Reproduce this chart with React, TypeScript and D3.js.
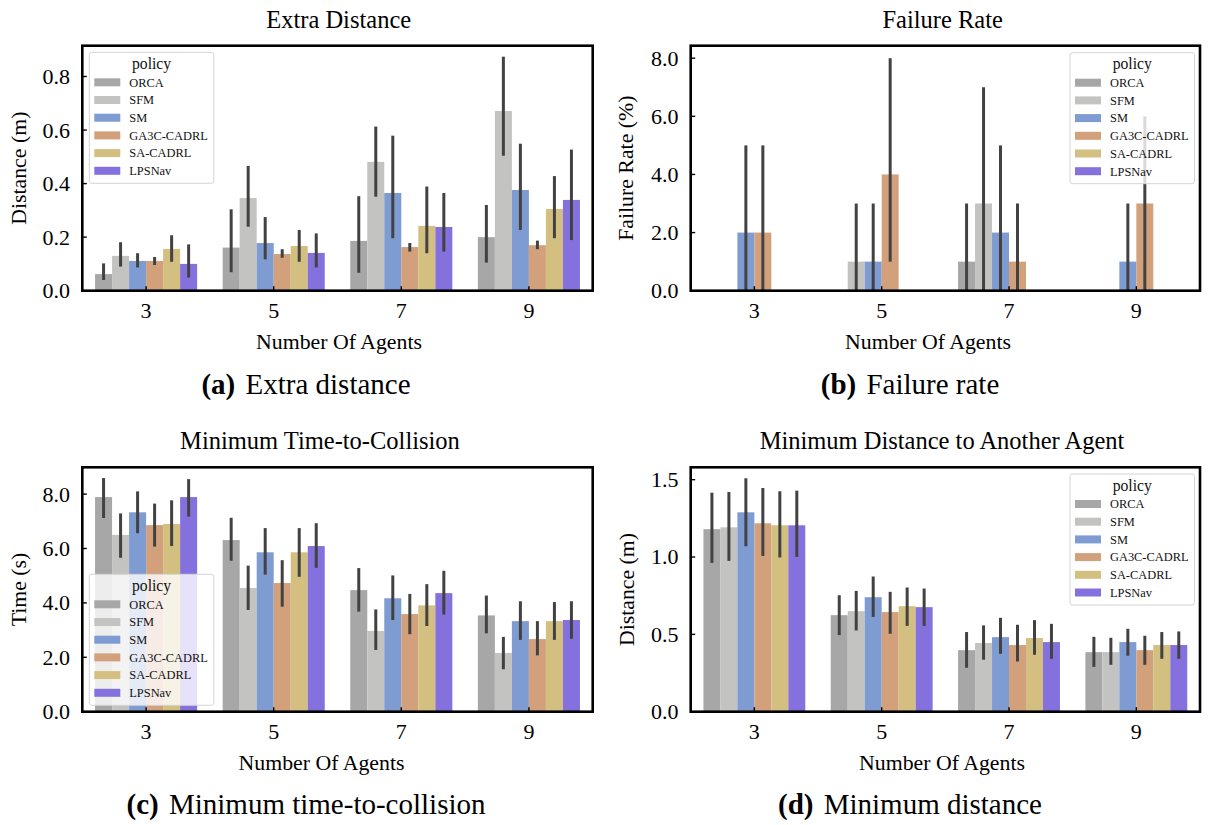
import React from 'react';
import * as d3 from 'd3';

const categories = ['3', '5', '7', '9'];
const policies = ['ORCA', 'SFM', 'SM', 'GA3C-CADRL', 'SA-CADRL', 'LPSNav'];
const policyColors = ['#a7a7a7', '#c3c3c2', '#7e9bd2', '#d2a17c', '#d3bf7f', '#8571de'];

// rows = policies, columns = categories (3,5,7,9)
const extraDistMean = [
  [0.062, 0.161, 0.186, 0.2],
  [0.13, 0.346, 0.481, 0.671],
  [0.111, 0.178, 0.365, 0.376],
  [0.111, 0.137, 0.163, 0.17],
  [0.156, 0.167, 0.242, 0.305],
  [0.1, 0.141, 0.238, 0.339],
];
const extraDistLo = [
  [0.04, 0.069, 0.067, 0.105],
  [0.09, 0.239, 0.351, 0.504],
  [0.087, 0.117, 0.196, 0.227],
  [0.096, 0.123, 0.146, 0.155],
  [0.108, 0.108, 0.14, 0.196],
  [0.049, 0.087, 0.146, 0.189],
];
const extraDistHi = [
  [0.102, 0.304, 0.353, 0.32],
  [0.181, 0.466, 0.613, 0.874],
  [0.14, 0.275, 0.579, 0.549],
  [0.126, 0.155, 0.178, 0.187],
  [0.207, 0.227, 0.389, 0.428],
  [0.173, 0.214, 0.365, 0.527],
];

const failMean = [
  [0, 0, 1, 0],
  [0, 1, 3, 0],
  [2, 1, 2, 1],
  [2, 4, 1, 3],
  [0, 0, 0, 0],
  [0, 0, 0, 0],
];
const failLo = [
  [0, 0, 0, 0],
  [0, 0, 0, 0],
  [0, 0, 0, 0],
  [0, 1, 0, 0],
  [0, 0, 0, 0],
  [0, 0, 0, 0],
];
const failHi = [
  [0, 0, 3, 0],
  [0, 3, 7, 0],
  [5, 3, 5, 3],
  [5, 8, 3, 6],
  [0, 0, 0, 0],
  [0, 0, 0, 0],
];

const ttcMean = [
  [7.89, 6.31, 4.47, 3.54],
  [6.5, 4.55, 2.97, 2.16],
  [7.33, 5.86, 4.17, 3.33],
  [6.86, 4.73, 3.59, 2.67],
  [6.9, 5.86, 3.91, 3.33],
  [7.89, 6.09, 4.36, 3.37],
];
const ttcLo = [
  [7.12, 5.55, 3.68, 2.88],
  [5.66, 3.74, 2.27, 1.56],
  [6.56, 5.04, 3.37, 2.64],
  [6.07, 3.86, 2.85, 2.07],
  [6.09, 4.96, 3.15, 2.64],
  [7.17, 5.29, 3.57, 2.68],
];
const ttcHi = [
  [8.59, 7.13, 5.28, 4.27],
  [7.29, 5.37, 3.76, 2.75],
  [8.1, 6.75, 5.01, 4.06],
  [7.65, 5.57, 4.33, 3.33],
  [7.77, 6.75, 4.69, 4.03],
  [8.55, 6.93, 5.18, 4.06],
];

const minDistMean = [
  [1.18, 0.624, 0.398, 0.385],
  [1.192, 0.65, 0.444, 0.385],
  [1.289, 0.74, 0.482, 0.45],
  [1.218, 0.644, 0.431, 0.398],
  [1.205, 0.682, 0.476, 0.431],
  [1.205, 0.676, 0.45, 0.431],
];
const minDistLo = [
  [0.962, 0.495, 0.284, 0.29],
  [0.975, 0.525, 0.336, 0.303],
  [1.07, 0.613, 0.374, 0.362],
  [1.007, 0.504, 0.325, 0.303],
  [0.997, 0.555, 0.368, 0.342],
  [1.001, 0.555, 0.342, 0.342],
];
const minDistHi = [
  [1.416, 0.753, 0.515, 0.484],
  [1.42, 0.781, 0.558, 0.478],
  [1.509, 0.874, 0.607, 0.536],
  [1.446, 0.775, 0.562, 0.491],
  [1.425, 0.803, 0.592, 0.515],
  [1.429, 0.796, 0.568, 0.519],
];

const yTicksA = [0, 0.2, 0.4, 0.6, 0.8];
const yTicksB = [0, 2, 4, 6, 8];
const yTicksC = [0, 2, 4, 6, 8];
const yTicksD = [0, 0.5, 1.0, 1.5];

const FONT = '"Liberation Serif", "Times New Roman", Times, serif';
const ERR = '#424242';

function Legend({ x, y }: { x: number; y: number }) {
  const w = 124.5;
  const h = 131;
  return (
    <g>
      <rect x={x} y={y} width={w} height={h} rx={2.5} fill="#ffffff" fillOpacity={0.8} stroke="#d4d4d4" strokeWidth={1} />
      <text x={x + w / 2} y={y + 16.5} textAnchor="middle" fontSize={15.7} fontFamily={FONT} fill="#111">
        policy
      </text>
      {policies.map((p, i) => {
        const cy = y + 30 + i * 17.7;
        return (
          <g key={p}>
            <rect x={x + 5} y={cy - 4} width={26} height={8} fill={policyColors[i]} />
            <text x={x + 40} y={cy + 4.3} fontSize={12.4} fontFamily={FONT} fill="#111">
              {p}
            </text>
          </g>
        );
      })}
    </g>
  );
}

type PanelProps = {
  x0: number;
  x1: number;
  y0: number;
  y1: number;
  yMax: number;
  yTicks: number[];
  mean: number[][];
  lo: number[][];
  hi: number[][];
  title: string;
  titleX: number;
  titleY: number;
  yLabel: string;
  yLabelX: number;
  xLabelX: number;
  legendX: number;
  legendY: number;
};

function Panel(props: PanelProps) {
  const { x0, x1, y0, y1, yMax, yTicks, mean, lo, hi, title, titleX, titleY, yLabel, yLabelX, xLabelX, legendX, legendY } = props;
  const x = d3.scaleBand<string>().domain(categories).range([x0, x1]).paddingInner(0.2).paddingOuter(0.1);
  const xi = d3.scaleBand<string>().domain(policies).range([0, x.bandwidth()]);
  const y = d3.scaleLinear().domain([0, yMax]).range([y1, y0]);
  const fmt = d3.format('.1f');
  const bars: React.ReactNode[] = [];
  const errs: React.ReactNode[] = [];
  policies.forEach((p, pi) => {
    categories.forEach((c, ci) => {
      const bx = (x(c) as number) + (xi(p) as number);
      const v = mean[pi][ci];
      if (v > 0) {
        bars.push(
          <rect key={`b${pi}-${ci}`} x={bx} y={y(v)} width={xi.bandwidth()} height={y(0) - y(v)} fill={policyColors[pi]} />
        );
      }
      if (hi[pi][ci] > lo[pi][ci]) {
        const cx = bx + xi.bandwidth() / 2;
        errs.push(
          <line key={`e${pi}-${ci}`} x1={cx} x2={cx} y1={y(lo[pi][ci])} y2={y(hi[pi][ci])} stroke={ERR} strokeWidth={3} />
        );
      }
    });
  });
  const midY = (y0 + y1) / 2;
  return (
    <g>
      <text x={titleX} y={titleY} textAnchor="middle" fontSize={24.5} fontFamily={FONT} fill="#000">
        {title}
      </text>
      {bars}
      {errs}
      <rect x={x0} y={y0} width={x1 - x0} height={y1 - y0} fill="none" stroke="#000" strokeWidth={2.6} />
      {yTicks.map((t) => (
        <g key={`yt${t}`}>
          <line x1={x0} x2={x0 + 4.5} y1={y(t)} y2={y(t)} stroke="#000" strokeWidth={1.4} />
          <text x={x0 - 12.3} y={y(t)} dy="0.34em" textAnchor="end" fontSize={22} fontFamily={FONT} fill="#000">
            {fmt(t)}
          </text>
        </g>
      ))}
      {categories.map((c) => {
        const cx = (x(c) as number) + x.bandwidth() / 2;
        return (
          <g key={`xt${c}`}>
            <line x1={cx} x2={cx} y1={y1} y2={y1 - 4.5} stroke="#000" strokeWidth={1.4} />
            <text x={cx} y={y1 + 27.6} textAnchor="middle" fontSize={22} fontFamily={FONT} fill="#000">
              {c}
            </text>
          </g>
        );
      })}
      <text x={xLabelX} y={y1 + 58} textAnchor="middle" fontSize={21.8} fontFamily={FONT} fill="#000">
        Number Of Agents
      </text>
      <text
        transform={`translate(${yLabelX},${midY}) rotate(-90)`}
        textAnchor="middle"
        fontSize={21.8}
        fontFamily={FONT}
        fill="#000"
      >
        {yLabel}
      </text>
      <Legend x={legendX} y={legendY} />
    </g>
  );
}

function Caption({ cx, y, tag, text }: { cx: number; y: number; tag: string; text: string }) {
  return (
    <text x={cx} y={y} textAnchor="middle" fontSize={29} fontFamily={FONT} fill="#000">
      <tspan fontWeight="bold">{tag}</tspan>
      <tspan dx={3}>{' ' + text}</tspan>
    </text>
  );
}

export default function App() {
  return (
    <svg
      width={1209}
      height={825}
      viewBox="0 0 1209 825"
      style={{ position: 'absolute', left: 0, top: 0, background: '#fff' }}
    >
      <rect x={0} y={0} width={1209} height={825} fill="#fff" />
      <Panel
        x0={82.3}
        x1={592.7}
        y0={45.7}
        y1={290.7}
        yMax={0.915}
        yTicks={yTicksA}
        mean={extraDistMean}
        lo={extraDistLo}
        hi={extraDistHi}
        title="Extra Distance"
        titleX={338.7}
        titleY={28}
        yLabel="Distance (m)"
        yLabelX={26}
        xLabelX={339}
        legendX={89.3}
        legendY={52.3}
      />
      <Panel
        x0={690.7}
        x1={1200}
        y0={45.7}
        y1={290.7}
        yMax={8.43}
        yTicks={yTicksB}
        mean={failMean}
        lo={failLo}
        hi={failHi}
        title="Failure Rate"
        titleX={942.7}
        titleY={28}
        yLabel="Failure Rate (%)"
        yLabelX={633}
        xLabelX={928}
        legendX={1070}
        legendY={52.7}
      />
      <Panel
        x0={82.3}
        x1={592.7}
        y0={467.3}
        y1={711.7}
        yMax={8.985}
        yTicks={yTicksC}
        mean={ttcMean}
        lo={ttcLo}
        hi={ttcHi}
        title="Minimum Time-to-Collision"
        titleX={320}
        titleY={448.7}
        yLabel="Time (s)"
        yLabelX={26}
        xLabelX={321.5}
        legendX={89.3}
        legendY={574.3}
      />
      <Panel
        x0={690.7}
        x1={1200}
        y0={467.3}
        y1={711.7}
        yMax={1.58}
        yTicks={yTicksD}
        mean={minDistMean}
        lo={minDistLo}
        hi={minDistHi}
        title="Minimum Distance to Another Agent"
        titleX={942}
        titleY={448.7}
        yLabel="Distance (m)"
        yLabelX={634}
        xLabelX={942}
        legendX={1070}
        legendY={474}
      />
      <Caption cx={306} y={394} tag="(a)" text="Extra distance" />
      <Caption cx={910} y={394} tag="(b)" text="Failure rate" />
      <Caption cx={306} y={813.5} tag="(c)" text="Minimum time-to-collision" />
      <Caption cx={910} y={813.5} tag="(d)" text="Minimum distance" />
    </svg>
  );
}
